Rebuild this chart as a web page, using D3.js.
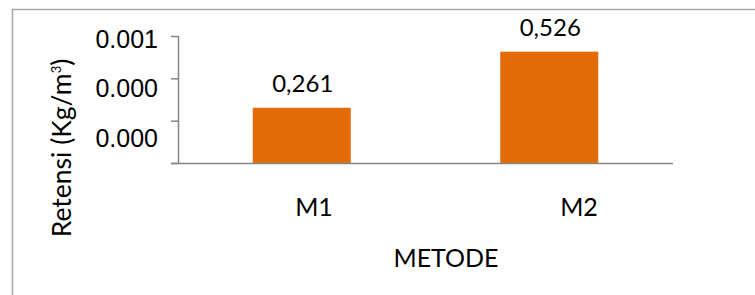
<!DOCTYPE html>
<html>
<head>
<meta charset="utf-8">
<script src="https://cdn.jsdelivr.net/npm/d3@7"></script>
<style>
body{margin:0;background:#fff;}
svg{display:block;}
.tick-label{font-family:"Liberation Sans",Arial,sans-serif;font-size:25px;fill:#000;}
.cat-label{font-family:Lato,"Open Sans",sans-serif;font-size:25px;fill:#000;}
.val-label{font-family:Lato,"Open Sans",sans-serif;font-size:24px;fill:#000;}
.axis-title{font-family:Lato,"Open Sans",sans-serif;font-size:25px;fill:#000;}
.y-title{font-family:Lato,"Open Sans",sans-serif;font-size:26.5px;fill:#000;}
</style>
</head>
<body>
<div id="chart"></div>
<script>
var categories = ["M1","M2"];
var values = [0.000261, 0.000526];
var valueLabels = ["0,261","0,526"];
var tickValues = [0, 0.0002, 0.0004, 0.0006];
var tickLabels = ["", "0.000", "0.000", "0.001"];

var width = 755, height = 295;
var svg = d3.select("#chart").append("svg")
	.attr("width",width)
	.attr("height",height);

// chart border
svg.append("rect")
	.attr("x",12.5).attr("y",9.5)
	.attr("width",800).attr("height",400)
	.attr("fill","none")
	.attr("stroke","#a6a6a6")
	.attr("stroke-width",1.5);

var xScale = d3.scaleBand()
	.domain(categories)
	.range([178,673])
	.paddingInner(0.604)
	.paddingOuter(0.302);
var yScale = d3.scaleLinear()
	.domain([0,0.0006])
	.range([163,36]);
// label positions drift from the ticks in the original
var yLabel = d3.scaleLinear()
	.domain([0,0.0006])
	.range([187.5,39]);
var xLabel = d3.scalePoint()
	.domain(categories)
	.range([314,579]);

// y axis line + ticks
svg.append("line")
	.attr("x1",178.5).attr("x2",178.5)
	.attr("y1",yScale(0)).attr("y2",yScale(0.0006))
	.attr("stroke","#868686").attr("stroke-width",1.5);
svg.selectAll(".ytick")
	.data(tickValues)
	.enter()
	.append("line")
	.attr("class","ytick")
	.attr("x1",171).attr("x2",178.5)
	.attr("y1",function(d){ return yScale(d)+0.5; })
	.attr("y2",function(d){ return yScale(d)+0.5; })
	.attr("stroke","#868686").attr("stroke-width",1.5);
svg.selectAll(".tick-label")
	.data(tickValues)
	.enter()
	.append("text")
	.attr("class","tick-label")
	.attr("x",158)
	.attr("y",function(d){ return yLabel(d); })
	.attr("dy","0.35em")
	.attr("text-anchor","end")
	.text(function(d,i){ return tickLabels[i]; });

// bars
svg.selectAll(".bar")
	.data(values)
	.enter()
	.append("rect")
	.attr("class","bar")
	.attr("x",function(d,i){ return xScale(categories[i]); })
	.attr("y",function(d){ return yScale(d); })
	.attr("width",xScale.bandwidth())
	.attr("height",function(d){ return yScale(0)-yScale(d); })
	.attr("fill","#e36c09");

// x axis line
svg.append("line")
	.attr("x1",171).attr("x2",673)
	.attr("y1",yScale(0)+0.5).attr("y2",yScale(0)+0.5)
	.attr("stroke","#868686").attr("stroke-width",1.5);

svg.selectAll(".val-label")
	.data(values)
	.enter()
	.append("text")
	.attr("class","val-label")
	.attr("x",function(d,i){ return xScale(categories[i])+xScale.bandwidth()/2+1; })
	.attr("y",function(d){ return yScale(d)-16; })
	.attr("text-anchor","middle")
	.text(function(d,i){ return valueLabels[i]; });

svg.selectAll(".cat-label")
	.data(categories)
	.enter()
	.append("text")
	.attr("class","cat-label")
	.attr("x",function(d){ return xLabel(d); })
	.attr("y",216)
	.attr("text-anchor","middle")
	.text(function(d){ return d; });

svg.append("text")
	.attr("class","axis-title")
	.attr("x",446).attr("y",267)
	.attr("text-anchor","middle")
	.text("METODE");

var yt = svg.append("text")
	.attr("class","y-title")
	.attr("transform","translate(71,148) rotate(-90)")
	.attr("text-anchor","middle");
yt.append("tspan").text("Retensi (Kg/m");
yt.append("tspan").attr("font-size","13px").attr("dy","-10").text("3");
yt.append("tspan").attr("dy","10").text(")");
</script>
</body>
</html>
